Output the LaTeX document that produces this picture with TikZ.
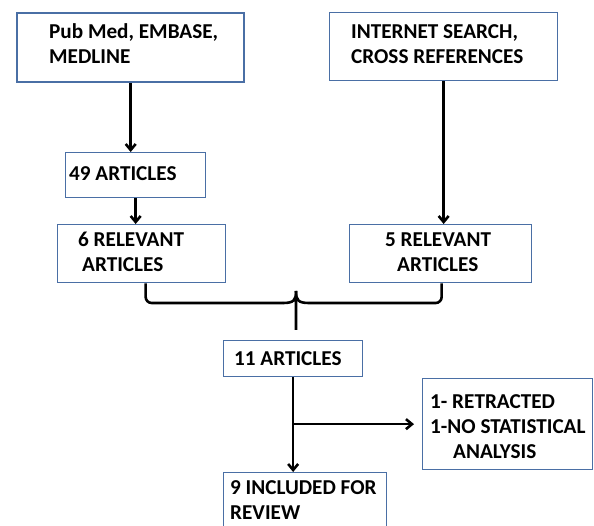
\documentclass[tikz,border=0pt]{standalone}
\usepackage{fontspec}
\setmainfont{Carlito}
\usetikzlibrary{arrows.meta}
\definecolor{boxblue}{HTML}{4A6FA5}
\begin{document}
\begin{tikzpicture}[x=1pt,y=-1pt,
  box/.style={draw=boxblue,line width=1.3pt,fill=white,inner sep=0pt,anchor=north west},
  txt/.style={anchor=base west,inner sep=0pt,align=left,font=\bfseries\fontsize{21.2}{25}\selectfont},
  linkarrow/.style={-{Straight Barb[length=6pt,width=10pt]},line width=2.6pt,draw=black},
  plain/.style={draw=black,line width=2.6pt}]
\useasboundingbox (0,0) rectangle (594,526);
\clip (0,0) rectangle (594,526);
% boxes
\node[box,line width=2.4pt,minimum width=227pt,minimum height=69pt] (A) at (16,12) {};
\node[box,minimum width=228pt,minimum height=68pt] (B) at (329,12) {};
\node[box,minimum width=140pt,minimum height=45pt] (C) at (65,152) {};
\node[box,minimum width=168pt,minimum height=58pt] (D) at (57,224) {};
\node[box,minimum width=182pt,minimum height=58pt] (E) at (349,224) {};
\node[box,minimum width=139pt,minimum height=36pt] (F) at (223,340) {};
\node[box,minimum width=170pt,minimum height=91pt] (G) at (422,378) {};
\node[box,minimum width=163pt,minimum height=70pt] (H) at (223,472) {};
% texts (anchored at the baseline of the last line)
\node[txt] (tA) at (49,64) {Pub Med, EMBASE,\\MEDLINE};
\node[txt] (tB) at (351,64) {INTERNET SEARCH,\\CROSS REFERENCES};
\node[txt] (tC) at (69,181) {49 ARTICLES};
\node[txt] (tD) at (78,272) {6 RELEVANT\\\hspace*{4pt}ARTICLES};
\node[txt] (tE) at (385,272) {5 RELEVANT\\\hspace*{12pt}ARTICLES};
\node[txt] (tF) at (234,365) {11 ARTICLES};
\node[txt] (tG) at (430,458) {1- RETRACTED\\1-NO STATISTICAL\\\hspace*{23pt}ANALYSIS};
\node[txt] (tH) at (230,519) {9 INCLUDED FOR\\REVIEW};
% connectors
\draw[linkarrow] (A.south) -- (A.south |- C.north);
\draw[linkarrow] (C.south) -- (C.south |- D.north);
\draw[linkarrow] (B.south) -- (B.south |- E.north);
% brace
\coordinate (bl) at ([xshift=4pt]D.south);
\coordinate (br) at ([xshift=1pt]E.south);
\coordinate (bm) at (296,303);
\coordinate (btip) at (296,330);
\draw[plain,rounded corners=6pt] (bl) -- (bl |- bm) -- ([xshift=-13pt]bm);
\draw[plain,rounded corners=6pt] (br) -- (br |- bm) -- ([xshift=13pt]bm);
\draw[plain] ([xshift=-13pt]bm) .. controls ([xshift=-2pt]bm) and ([xshift=0pt,yshift=3pt]bm) .. ([yshift=12pt]bm) -- (btip);
\draw[plain] ([xshift=13pt]bm) .. controls ([xshift=2pt]bm) and ([xshift=0pt,yshift=3pt]bm) .. ([yshift=12pt]bm);
% lower part
\coordinate (fork) at (F.south |- G.west);
\draw[linkarrow] (F.south) -- (F.south |- H.north);
\draw[linkarrow,shorten >=8pt] (fork) -- (G.west);
\end{tikzpicture}
\end{document}
